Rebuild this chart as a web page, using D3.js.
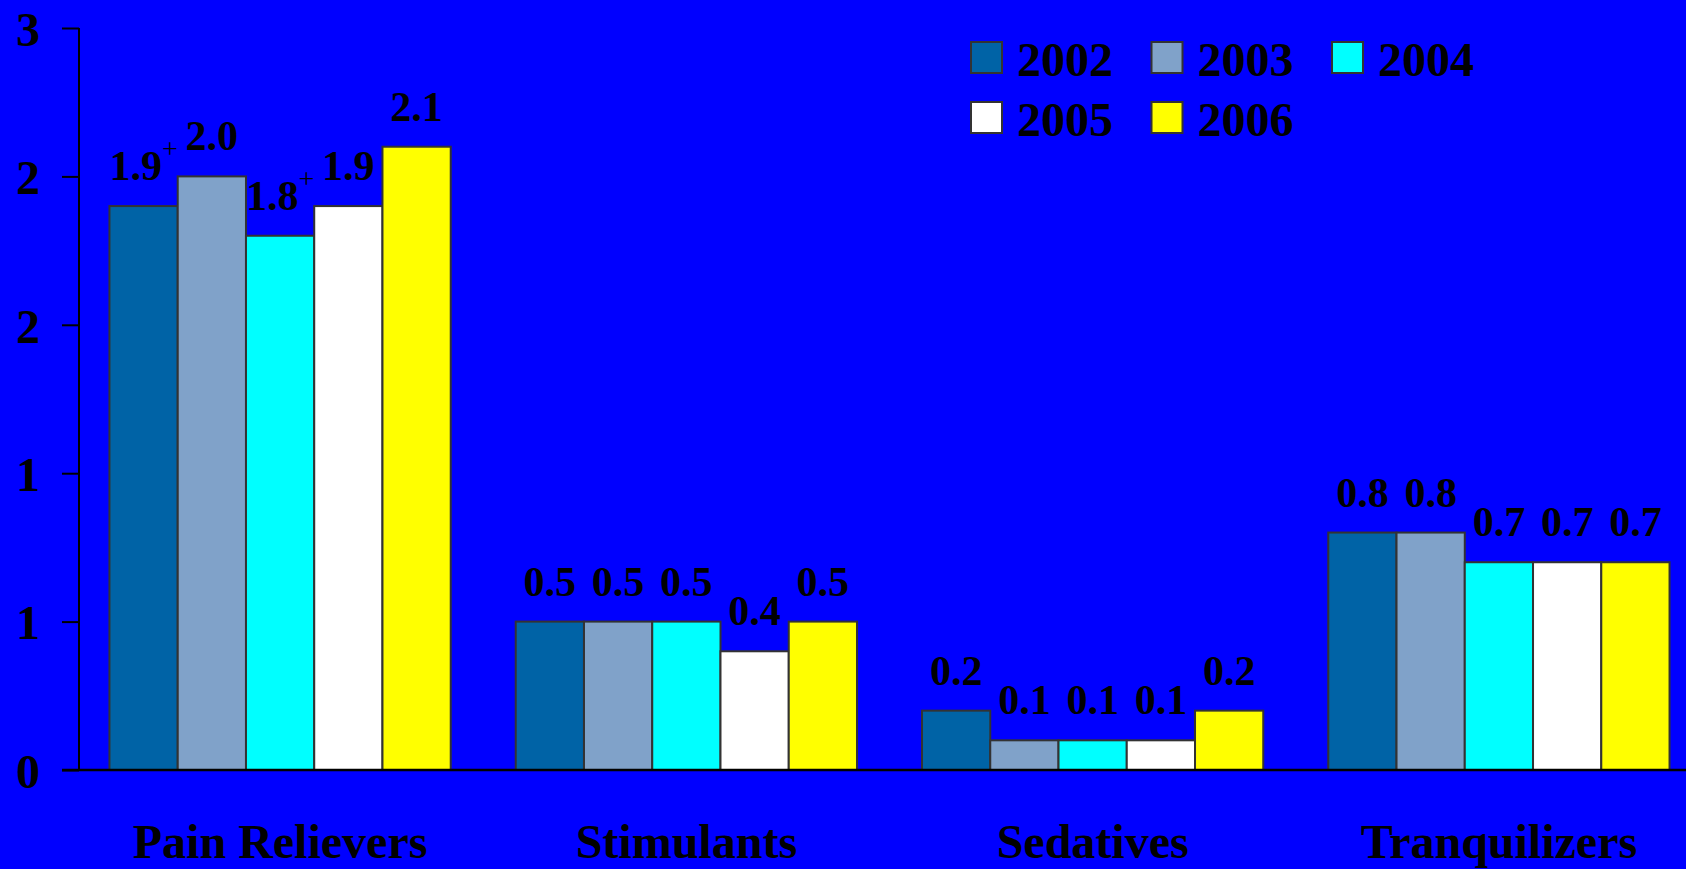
<!DOCTYPE html>
<html>
<head>
<meta charset="utf-8">
<script src="https://cdn.jsdelivr.net/npm/d3@7"></script>
<style>
  html, body { margin: 0; padding: 0; background: #0000FF; overflow: hidden; }
  svg { display: block; }
  text { font-family: "Liberation Serif", "Times New Roman", serif; font-weight: bold; fill: #000; }
</style>
</head>
<body>
<svg id="chart" width="1686" height="869"></svg>
<script>
const categories = ["Pain Relievers", "Stimulants", "Sedatives", "Tranquilizers"];
const years = ["2002", "2003", "2004", "2005", "2006"];
const colors = ["#0063A6", "#80A2C9", "#00FFFF", "#FFFFFF", "#FFFF00"];
const values2002 = [1.9, 0.5, 0.2, 0.8];
const values2003 = [2.0, 0.5, 0.1, 0.8];
const values2004 = [1.8, 0.5, 0.1, 0.7];
const values2005 = [1.9, 0.4, 0.1, 0.7];
const values2006 = [2.1, 0.5, 0.2, 0.7];
const seriesValues = [values2002, values2003, values2004, values2005, values2006];
const labels2002 = ["1.9", "0.5", "0.2", "0.8"];
const labels2003 = ["2.0", "0.5", "0.1", "0.8"];
const labels2004 = ["1.8", "0.5", "0.1", "0.7"];
const labels2005 = ["1.9", "0.4", "0.1", "0.7"];
const labels2006 = ["2.1", "0.5", "0.2", "0.7"];
const seriesLabels = [labels2002, labels2003, labels2004, labels2005, labels2006];
// "+" superscript marks
const sup2002 = ["+", "", "", ""];
const sup2003 = ["", "", "", ""];
const sup2004 = ["+", "", "", ""];
const sup2005 = ["", "", "", ""];
const sup2006 = ["", "", "", ""];
const seriesSup = [sup2002, sup2003, sup2004, sup2005, sup2006];
const tickValues = [0, 0.5, 1.0, 1.5, 2.0, 2.5];
const tickLabels = ["0", "1", "1", "2", "2", "3"];

const svg = d3.select("#chart");
const W = 1686, H = 869;
svg.append("rect").attr("width", W).attr("height", H).attr("fill", "#0000FF");

const axisX = 79;
const y = d3.scaleLinear().domain([0, 2.5]).range([770, 28]);
const x0 = d3.scaleBand().domain(categories).range([axisX, 1700])
  .paddingInner(0.16).paddingOuter(0.075);
const x1 = d3.scaleBand().domain(years).range([0, x0.bandwidth()]).padding(0);

const rows = [];
categories.forEach((c, ci) => {
  years.forEach((yr, yi) => {
    rows.push({cat: c, year: yr, yi: yi, value: seriesValues[yi][ci],
               label: seriesLabels[yi][ci], sup: seriesSup[yi][ci]});
  });
});

// bars
svg.append("g").selectAll("rect").data(rows).join("rect")
  .attr("x", d => x0(d.cat) + x1(d.year))
  .attr("y", d => y(d.value))
  .attr("width", x1.bandwidth())
  .attr("height", d => y(0) - y(d.value))
  .attr("fill", d => colors[d.yi])
  .attr("stroke", "#333333")
  .attr("stroke-width", 2);

// value labels
const lab = svg.append("g").selectAll("text").data(rows).join("text")
  .attr("x", d => x0(d.cat) + x1(d.year) + x1.bandwidth() / 2)
  .attr("y", d => y(d.value) - 26)
  .attr("text-anchor", "middle")
  .style("font-size", "42px");
lab.append("tspan").text(d => d.label);
lab.filter(d => d.sup).append("tspan")
  .attr("dy", -22)
  .style("font-size", "28px")
  .style("font-weight", "normal")
  .text(d => d.sup);

// y axis
const yAxis = d3.axisLeft(y).tickValues(tickValues)
  .tickFormat((d, i) => tickLabels[i]).tickSize(17).tickPadding(22);
const ga = svg.append("g").attr("transform", `translate(${axisX},0)`).call(yAxis);
ga.select(".domain").attr("stroke", "#000").attr("stroke-width", 2)
  .attr("d", `M0,${y(2.5)}V${y(0)}`);
ga.selectAll(".tick line").attr("stroke", "#000").attr("stroke-width", 2);
ga.selectAll(".tick text")
  .attr("fill", "#000")
  .style("font-family", '"Liberation Serif", "Times New Roman", serif')
  .style("font-weight", "bold")
  .style("font-size", "48px")
  .attr("dy", "0.36em");

// baseline
svg.append("line").attr("x1", 62).attr("x2", W).attr("y1", y(0)).attr("y2", y(0))
  .attr("stroke", "#000").attr("stroke-width", 2.5);

// category labels
svg.append("g").selectAll("text").data(categories).join("text")
  .attr("x", d => x0(d) + x0.bandwidth() / 2)
  .attr("y", 858)
  .attr("text-anchor", "middle")
  .style("font-size", "48px")
  .text(d => d);

// legend
const legend = svg.append("g").attr("transform", "translate(971,42)");
const li = legend.selectAll("g").data(years).join("g")
  .attr("transform", (d, i) => `translate(${(i % 3) * 180.5},${Math.floor(i / 3) * 60})`);
li.append("rect").attr("width", 31).attr("height", 31)
  .attr("fill", (d, i) => colors[i]).attr("stroke", "#333333").attr("stroke-width", 2);
li.append("text").attr("x", 46).attr("y", 34).style("font-size", "48px").text(d => d);
</script>
</body>
</html>
